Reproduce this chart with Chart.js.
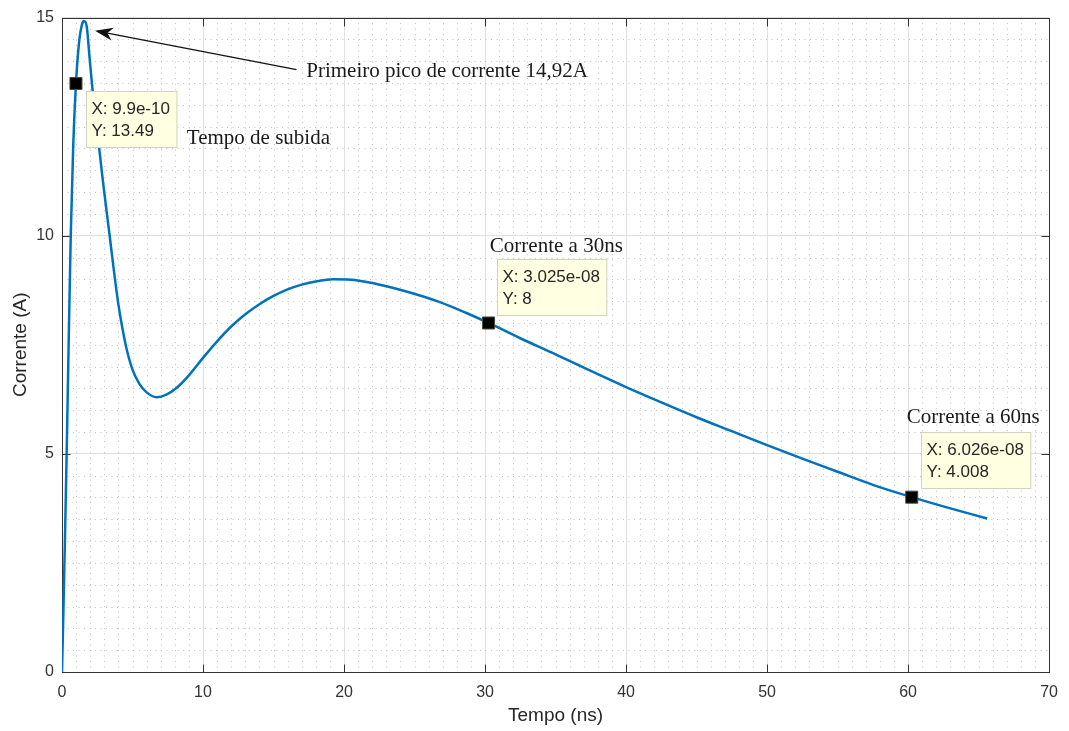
<!DOCTYPE html>
<html>
<head>
<meta charset="utf-8">
<script src="https://cdn.jsdelivr.net/npm/chart.js@4.4.1/dist/chart.umd.min.js"></script>
<style>
  html, body { margin: 0; padding: 0; background: #fff; }
  canvas { display: block; }
</style>
</head>
<body>
<canvas id="myChart" width="1069" height="731"></canvas>
<script>
// curve (time in ns, current in A)
const tempoNs = [0, 0.1, 0.2, 0.33, 0.47, 0.62, 0.8, 0.99, 1.2, 1.4, 1.56, 1.75, 1.95, 2.15, 2.5, 2.9,
  3.38, 3.7, 4.0, 4.3, 4.6, 5.0, 5.5, 6.0, 6.7, 7.4, 8.12, 9.0, 10.0, 11.0, 12.0, 13.0, 14.0, 15.0,
  16.0, 17.0, 18.0, 19.2, 20.5, 21.8, 23.3, 24.86, 26.7, 28.6, 30.25, 32.5, 35, 37.5, 40, 42.5, 45,
  47.5, 50, 52.5, 55, 57.5, 60.26, 63, 65.6];
const correnteA = [0, 1.4, 2.9, 5.0, 7.5, 10.0, 12.1, 13.49, 14.4, 14.82, 14.92, 14.8, 14.1, 13.4, 12.4, 11.25,
  10.0, 9.15, 8.42, 7.85, 7.38, 6.93, 6.6, 6.41, 6.3, 6.36, 6.51, 6.8, 7.2, 7.58, 7.92, 8.2, 8.43, 8.62,
  8.77, 8.88, 8.95, 9.0, 8.99, 8.93, 8.82, 8.68, 8.49, 8.24, 8.0, 7.65, 7.28, 6.9, 6.53, 6.18, 5.84,
  5.52, 5.2, 4.89, 4.59, 4.29, 4.008, 3.75, 3.52];

const xTicks = [0, 10, 20, 30, 40, 50, 60, 70];
const yTicks = [0, 5, 10, 15];

// data tips
const tipX = [0.99, 30.25, 60.26];
const tipY = [13.49, 8, 4.008];
const tipLabels = [['X: 9.9e-10', 'Y: 13.49'], ['X: 3.025e-08', 'Y: 8'], ['X: 6.026e-08', 'Y: 4.008']];

// text notes (left / baseline, in data units)
const noteTexts = ['Primeiro pico de corrente 14,92A', 'Tempo de subida', 'Corrente a 30ns', 'Corrente a 60ns'];
const noteX = [17.32, 8.85, 30.34, 59.9];
const noteY = [13.63, 12.10, 9.62, 5.71];
const arrowFrom = [16.63, 13.81];
const arrowTo = [2.34, 14.70];

const tipOffsets = [[10, 8], [8, -64], [9, -65]];

const matlabAxes = {
  id: 'matlabAxes',
  beforeDatasetsDraw(chart) {
    const { ctx, chartArea: a, scales: { x, y } } = chart;
    ctx.save();
    // minor grid, dotted
    ctx.strokeStyle = '#c4c4c4';
    ctx.lineWidth = 1;
    ctx.setLineDash([1, 4.5]);
    ctx.beginPath();
    for (let v = 1; v < 70; v++) {
      if (v % 10 === 0) continue;
      const px = Math.round(x.getPixelForValue(v)) + 0.5;
      ctx.moveTo(px, a.top); ctx.lineTo(px, a.bottom);
    }
    for (let v = 0.5; v < 15; v += 0.5) {
      if (v % 5 === 0) continue;
      const py = Math.round(y.getPixelForValue(v)) + 0.5;
      ctx.moveTo(a.left, py); ctx.lineTo(a.right, py);
    }
    ctx.stroke();
    ctx.setLineDash([]);

    // box and inward ticks
    ctx.strokeStyle = '#333';
    ctx.lineWidth = 1;
    const L = Math.round(a.left) + 0.5, R = Math.round(a.right) + 0.5;
    const T = Math.round(a.top) + 0.5, B = Math.round(a.bottom) + 0.5;
    ctx.strokeRect(L, T, R - L, B - T);
    ctx.beginPath();
    xTicks.forEach(v => {
      const px = Math.round(x.getPixelForValue(v)) + 0.5;
      ctx.moveTo(px, B); ctx.lineTo(px, B - 8);
      ctx.moveTo(px, T); ctx.lineTo(px, T + 8);
    });
    yTicks.forEach(v => {
      const py = Math.round(y.getPixelForValue(v)) + 0.5;
      ctx.moveTo(L, py); ctx.lineTo(L + 8, py);
      ctx.moveTo(R, py); ctx.lineTo(R - 8, py);
    });
    ctx.stroke();
    ctx.restore();
  },
  afterDatasetsDraw(chart) {
    const { ctx, scales: { x, y } } = chart;
    ctx.save();

    // data tip boxes
    ctx.font = '17px "Liberation Sans", Arial, sans-serif';
    ctx.textBaseline = 'middle';
    tipLabels.forEach((lines, i) => {
      const px = x.getPixelForValue(tipX[i]);
      const py = y.getPixelForValue(tipY[i]);
      const w = Math.max(...lines.map(s => ctx.measureText(s).width)) + 12;
      const bx = Math.round(px + tipOffsets[i][0]) + 0.5;
      const by = Math.round(py + tipOffsets[i][1]) + 0.5;
      ctx.fillStyle = '#ffffe1';
      ctx.fillRect(bx, by, w, 56);
      ctx.strokeStyle = '#d2d2c2';
      ctx.strokeRect(bx, by, w, 56);
      ctx.fillStyle = '#262626';
      ctx.fillText(lines[0], bx + 5, by + 18);
      ctx.fillText(lines[1], bx + 5, by + 40);
    });

    // notes
    ctx.font = '21px "Liberation Serif", "Times New Roman", serif';
    ctx.textBaseline = 'alphabetic';
    ctx.fillStyle = '#1a1a1a';
    noteTexts.forEach((t, i) => {
      ctx.fillText(t, x.getPixelForValue(noteX[i]), y.getPixelForValue(noteY[i]));
    });

    // arrow
    const x0 = x.getPixelForValue(arrowFrom[0]), y0 = y.getPixelForValue(arrowFrom[1]);
    const x1 = x.getPixelForValue(arrowTo[0]), y1 = y.getPixelForValue(arrowTo[1]);
    const ang = Math.atan2(y0 - y1, x0 - x1);
    const len = 18, half = 6.5;
    const cx = Math.cos(ang), sy = Math.sin(ang);
    ctx.strokeStyle = '#111';
    ctx.lineWidth = 1.3;
    ctx.beginPath();
    ctx.moveTo(x0, y0);
    ctx.lineTo(x1 + cx * len * 0.7, y1 + sy * len * 0.7);
    ctx.stroke();
    ctx.fillStyle = '#111';
    ctx.beginPath();
    ctx.moveTo(x1, y1);
    ctx.lineTo(x1 + cx * len - sy * half, y1 + sy * len + cx * half);
    ctx.lineTo(x1 + cx * len * 0.7, y1 + sy * len * 0.7);
    ctx.lineTo(x1 + cx * len + sy * half, y1 + sy * len - cx * half);
    ctx.closePath();
    ctx.fill();
    ctx.restore();
  }
};

const ctx = document.getElementById('myChart').getContext('2d');

const data = {
  datasets: [{
    label: 'Corrente',
    data: tempoNs.map((t, i) => ({ x: t, y: correnteA[i] })),
    borderColor: '#0072bd',
    borderWidth: 2.5,
    pointRadius: 0,
    cubicInterpolationMode: 'monotone',
    fill: false,
    order: 2
  }, {
    label: 'Data tips',
    type: 'scatter',
    data: tipX.map((t, i) => ({ x: t, y: tipY[i] })),
    pointStyle: 'rect',
    pointRadius: 8.5,
    backgroundColor: '#000',
    borderColor: '#4a4a3a',
    borderWidth: 1,
    showLine: false,
    order: 1
  }]
};

const chart = new Chart(ctx, {
  type: 'line',
  data: data,
  options: {
    responsive: false,
    animation: false,
    devicePixelRatio: 1,
    layout: { padding: { top: 15, right: 18, bottom: 0, left: 0 } },
    plugins: { legend: { display: false }, tooltip: { enabled: false } },
    scales: {
      x: {
        type: 'linear',
        min: 0, max: 70,
        afterBuildTicks: s => { s.ticks = xTicks.map(v => ({ value: v })); },
        afterFit: s => { s.height = 59; },
        grid: { color: '#e0e0e0', lineWidth: 1, drawTicks: false },
        border: { display: false },
        ticks: { padding: 11, color: '#333', font: { family: '"Liberation Sans", Arial, sans-serif', size: 16 }, maxRotation: 0 },
        title: { display: true, text: 'Tempo (ns)', color: '#262626', padding: { top: 0, bottom: 4 },
          font: { family: '"Liberation Sans", Arial, sans-serif', size: 19 } }
      },
      y: {
        type: 'linear',
        min: 0, max: 15,
        afterBuildTicks: s => { s.ticks = yTicks.map(v => ({ value: v })); },
        afterFit: s => { s.width = 62; },
        grid: { color: '#e0e0e0', lineWidth: 1, drawTicks: false },
        border: { display: false },
        ticks: { padding: 8, color: '#333', font: { family: '"Liberation Sans", Arial, sans-serif', size: 16 } },
        title: { display: true, text: 'Corrente (A)', color: '#262626', padding: { top: 9, bottom: 0 },
          font: { family: '"Liberation Sans", Arial, sans-serif', size: 19 } }
      }
    }
  },
  plugins: [matlabAxes]
});
</script>
</body>
</html>
